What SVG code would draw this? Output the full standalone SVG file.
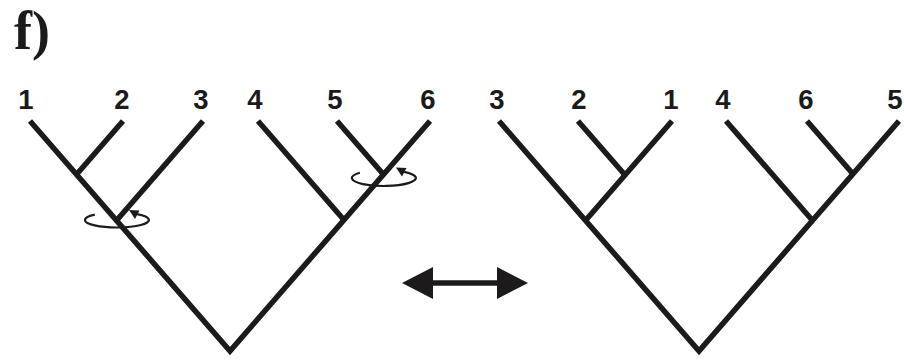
<svg xmlns="http://www.w3.org/2000/svg" width="904" height="361" viewBox="0 0 904 361">
  <style>
    .br { fill: none; stroke: #1c1a1a; stroke-width: 5.5; stroke-linecap: butt; stroke-linejoin: miter; stroke-miterlimit: 10; }
    .rot { fill: none; stroke: #1c1a1a; stroke-width: 2.2; }
    .head { fill: #1c1a1a; }
    .lbl { font-family: "Liberation Sans", Arial, sans-serif; font-weight: bold; font-size: 27.5px; fill: #1c1a1a; text-anchor: middle; }
    .panel { font-family: "Liberation Serif", "Times New Roman", serif; font-weight: bold; font-size: 54px; fill: #1c1a1a; }
  </style>

  <!-- panel letter -->
  <text class="panel" x="14" y="49">f)</text>

  <!-- leaf labels, left tree -->
  <g id="left-tree-leaves">
    <g id="L1"><text class="lbl" x="26" y="109">1</text></g>
    <g id="L2"><text class="lbl" x="122" y="109">2</text></g>
    <g id="L3"><text class="lbl" x="201" y="109">3</text></g>
    <g id="L4"><text class="lbl" x="255" y="109">4</text></g>
    <g id="L5"><text class="lbl" x="335" y="109">5</text></g>
    <g id="L6"><text class="lbl" x="428" y="109">6</text></g>
  </g>

  <!-- leaf labels, right tree -->
  <g id="right-tree-leaves">
    <g id="R3"><text class="lbl" x="497" y="109">3</text></g>
    <g id="R2"><text class="lbl" x="579" y="109">2</text></g>
    <g id="R1"><text class="lbl" x="671" y="109">1</text></g>
    <g id="R4"><text class="lbl" x="723" y="109">4</text></g>
    <g id="R6"><text class="lbl" x="806" y="109">6</text></g>
    <g id="R5"><text class="lbl" x="895" y="109">5</text></g>
  </g>

  <!-- rotation symbols around the two swapped nodes -->
  <g id="rotation-a">
    <path class="rot" d="M94.8,214.6 A32,7.5 0 1 0 137.1,214.2"/>
    <polygon class="head" points="129,210 139.5,210.5 135,219"/>
  </g>
  <g id="rotation-b">
    <path class="rot" d="M359.9,172.7 A32,8 0 1 0 404.1,171.8"/>
    <polygon class="head" points="396,167.5 406.5,168 402,176.5"/>
  </g>

  <!-- branches -->
  <g id="connectors">
    <!-- left tree -->
    <polyline class="br" points="30,121 230,351 430,121"/>
    <line class="br" x1="123" y1="121" x2="76.5" y2="174.5"/>
    <line class="br" x1="203" y1="121" x2="116.5" y2="220.5"/>
    <line class="br" x1="258" y1="121" x2="344" y2="220"/>
    <line class="br" x1="337" y1="121" x2="383.5" y2="174.5"/>
    <!-- right tree -->
    <polyline class="br" points="499,121 699,351 899,121"/>
    <line class="br" x1="672" y1="121" x2="585.5" y2="220.5"/>
    <line class="br" x1="578" y1="121" x2="625" y2="175"/>
    <line class="br" x1="726" y1="121" x2="812.5" y2="220.5"/>
    <line class="br" x1="807" y1="121" x2="853" y2="174"/>
  </g>

  <!-- double-headed arrow between the trees -->
  <g id="swap-arrow">
    <line class="br" x1="430" y1="283" x2="500" y2="283"/>
    <polygon class="head" points="402,283 433,267 433,299"/>
    <polygon class="head" points="528,283 497,267 497,299"/>
  </g>
</svg>
